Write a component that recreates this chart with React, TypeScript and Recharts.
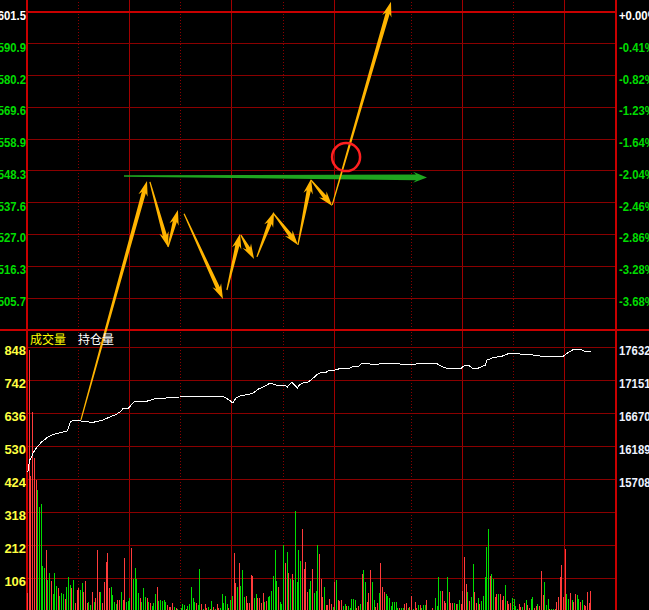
import React from "react";
import {
  Bar,
  Cell,
  ComposedChart,
  Line,
  ReferenceDot,
  ReferenceLine,
  XAxis,
  YAxis,
} from "recharts";

// price panel ticks (left) and change vs. previous close (right)
const priceTicks = [2601.5, 2590.9, 2580.2, 2569.6, 2558.9, 2548.3, 2537.6, 2527.0, 2516.3, 2505.7];
const percentTicks = ["+0.00%", "-0.41%", "-0.82%", "-1.23%", "-1.64%", "-2.04%", "-2.46%", "-2.86%", "-3.28%", "-3.68%"];
// volume (left) and open interest (right) ticks of the lower panel
const volumeTicks = [848, 742, 636, 530, 424, 318, 212, 106];
const openInterestTicks = [17632, 17151, 16670, 16189, 15708];

// trading minutes from 21:00: night 21:00-23:00, day 9:00-10:15, 10:30-11:30, 13:30-15:00
const sessionLength = 345;
const halfHourMarks = [30, 90, 150, 225, 285];
const hourMarks = [60, 120, 180, 255, 315];

// per-minute volume
const volumes = [
  62, 842, 437, 642, 494, 424, 392, 337, 347, 148,
  142, 199, 103, 125, 100, 57, 126, 84, 78, 52,
  62, 58, 42, 81, 113, 87, 77, 103, 30, 71,
  77, 71, 93, 65, 100, 29, 32, 22, 65, 33,
  44, 199, 65, 65, 29, 97, 162, 189, 77, 81,
  55, 33, 26, 39, 39, 65, 39, 175, 33, 35,
  44, 207, 106, 141, 106, 61, 46, 33, 77, 49,
  46, 33, 29, 19, 29, 58, 81, 35, 39, 35,
  39, 33, 22, 17, 17, 29, 17, 13, 10, 8,
  13, 26, 22, 10, 19, 26, 81, 46, 33, 29,
  22, 138, 26, 10, 26, 12, 17, 10, 35, 16,
  10, 26, 12, 13, 58, 30, 51, 26, 13, 39,
  51, 190, 94, 81, 157, 83, 135, 49, 51, 30,
  30, 119, 116, 46, 58, 45, 45, 30, 61, 33,
  35, 48, 51, 67, 116, 199, 100, 80, 32, 26,
  215, 157, 193, 125, 106, 122, 103, 324, 96, 199,
  164, 267, 138, 161, 64, 74, 100, 138, 61, 67,
  215, 186, 106, 48, 80, 21, 21, 42, 26, 17,
  96, 103, 39, 35, 39, 19, 26, 19, 19, 13,
  42, 42, 39, 12, 19, 26, 122, 135, 96, 32,
  61, 135, 96, 39, 16, 29, 61, 157, 80, 64,
  58, 51, 45, 19, 32, 32, 32, 13, 13, 13,
  13, 26, 29, 13, 16, 51, 10, 32, 13, 21,
  21, 13, 21, 21, 39, 6, 8, 13, 5, 45,
  19, 112, 67, 67, 35, 29, 112, 64, 29, 29,
  29, 26, 26, 39, 26, 67, 177, 90, 64, 35,
  48, 154, 64, 29, 45, 26, 35, 51, 112, 209,
  267, 116, 122, 106, 48, 58, 58, 58, 39, 51,
  87, 35, 26, 29, 45, 42, 19, 10, 26, 16,
  16, 29, 39, 21, 13, 42, 48, 13, 19, 26,
  19, 132, 55, 96, 21, 42, 10, 10, 10, 10,
  32, 48, 112, 151, 48, 202, 58, 42, 61, 39,
  32, 58, 55, 42, 32, 39, 21, 19, 64, 29, 67,
];

// r = price ticked up in that minute, g = ticked down
const barSides = [
  "rrrrrrgggg", "grggrgggrg", "ggrgggrgrr", "rggrrrggrg", "rrrgrrrrrg",
  "gggrrgrrgg", "grggggrggg", "rgrgggrggg", "ggrrrrgrgg", "gggrgggggr",
  "ggrgrrgrgr", "grrgggggrg", "grrgrgggrr", "rrrggrrrrg", "rggggggrgg",
  "grgrgrgggg", "grrrrggrgg", "grrrgrrrrg", "rgrrrggrgg", "gggrrgrggr",
  "rrggrrgrrr", "ggggggggrg", "grrgrrgrrg", "rgggrggrgg", "gggrrrgrrr",
  "grggrrrrgr", "ggrrgrgggg", "grggrrgrrr", "grrrggggrr", "grgrrggrrg",
  "rrrgggrggr", "rrrrrrggrg", "rrggrgrrrrr",
].join("");

// open interest: [minute, contracts]
const openInterest: [number, number][] = [
  [0, 15825], [1, 15999], [2, 16029], [3, 16102], [5, 16174], [8, 16262],
  [11, 16320], [14, 16364], [18, 16393], [23, 16422], [25, 16553], [26, 16568],
  [31, 16568], [36, 16553], [39, 16553], [44, 16583], [48, 16626], [51, 16655],
  [54, 16699], [56, 16757], [59, 16757], [62, 16845], [67, 16859], [70, 16859],
  [76, 16903], [81, 16903], [89, 16918], [93, 16932], [97, 16918], [101, 16918],
  [115, 16918], [118, 16874], [120, 16830], [122, 16903], [124, 16932], [130, 16962],
  [132, 16976], [135, 17034], [138, 17064], [142, 17122], [145, 17093], [151, 17078],
  [152, 17064], [154, 17122], [155, 17122], [158, 17049], [159, 17093], [161, 17122],
  [163, 17122], [166, 17166], [169, 17238], [171, 17268], [175, 17282], [177, 17311],
  [180, 17311], [182, 17326], [187, 17326], [190, 17355], [194, 17370], [196, 17413],
  [199, 17413], [202, 17384], [206, 17399], [210, 17413], [214, 17399], [218, 17399],
  [224, 17384], [231, 17413], [235, 17399], [240, 17399], [243, 17355], [247, 17326],
  [250, 17326], [254, 17340], [256, 17384], [258, 17384], [261, 17326], [264, 17340],
  [268, 17384], [269, 17457], [272, 17486], [275, 17501], [278, 17515], [281, 17545],
  [288, 17545], [296, 17530], [304, 17501], [307, 17501], [313, 17501], [316, 17559],
  [319, 17603], [323, 17617], [326, 17588], [330, 17574],
];

// hand-drawn swing arrows on the price scale: [fromMinute, fromPrice, toMinute, toPrice]
const swingArrows = [
  [31.6, 2464.9, 70.3, 2544.9],
  [72.0, 2544.6, 82.6, 2522.8],
  [82.6, 2522.8, 88.4, 2535.2],
  [92.0, 2533.9, 114.8, 2505.4],
  [117.1, 2508.4, 124.8, 2527.2],
  [125.3, 2526.8, 133.0, 2518.8],
  [134.7, 2519.5, 144.7, 2534.5],
  [144.1, 2534.2, 158.7, 2523.5],
  [158.7, 2523.5, 166.4, 2545.6],
  [166.4, 2545.2, 178.8, 2536.5],
  [178.8, 2536.9, 213.2, 2604.9],
];
const resistanceArrow = [56.8, 2546.6, 234.3, 2546.1];
const breakoutMark = [186.9, 2552.9];

// axis ranges over the whole plot height (price panel on top, volume panel below)
const PRICE_DOMAIN = [2400.56, 2605.52];
const VOLUME_DOMAIN = [0, 1965.8];
const OI_DOMAIN = [13784, 22704.4];
const PRICE_FLOOR = 2495.0;

const GRID = "#8a0000";
const GRID_STRONG = "#a00000";
const FRAME = "#c80000";
const UP = "#ff3c3c";
const DOWN = "#00dc00";
const ARROW = "#ffb400";

const numberFont: React.CSSProperties = {
  fontFamily: "'Liberation Sans', Arial, sans-serif",
  fontSize: 13.5,
  fontWeight: 700,
};

type Row = { t: number; vol: number; up: boolean; oi?: number };
const rows: Row[] = volumes.map((vol, i) => ({ t: i + 0.5, vol, up: barSides[i] === "r" }));
for (const [minute, value] of openInterest) rows[minute].oi = value;

// tick text drawn beside a horizontal reference line; squeeze < 1 narrows the glyphs
const sideLabels =
  (
    left: string | null,
    leftColor: string,
    right: string | null,
    rightColor: string,
    dy = 8,
    squeeze = 0.84,
  ) =>
  (props: any) => {
    const vb = props.viewBox;
    const y = vb.y + dy;
    const lx = vb.x - 1;
    const rx = vb.x + vb.width + 3;
    return (
      <g>
        {left !== null && (
          <text
            transform={`translate(${lx},${y}) scale(${squeeze},1)`}
            textAnchor="end"
            fill={leftColor}
            style={numberFont}
          >
            {left}
          </text>
        )}
        {right !== null && (
          <text
            transform={`translate(${rx},${y}) scale(${squeeze},1)`}
            textAnchor="start"
            fill={rightColor}
            style={numberFont}
          >
            {right}
          </text>
        )}
      </g>
    );
  };

// tapered arrow: thin tail, widening shaft, swept-back head
function TaperedArrow(props: any) {
  const { x1, y1, x2, y2, color, tail = 0.6, neck = 2.1, barb = 4.8, headLen = 12 } = props;
  const dx = x2 - x1;
  const dy = y2 - y1;
  const len = Math.hypot(dx, dy) || 1;
  const ux = dx / len;
  const uy = dy / len;
  const nx = -uy;
  const ny = ux;
  const bx = x2 - ux * headLen;
  const by = y2 - uy * headLen;
  const pts = [
    [x1 + nx * tail, y1 + ny * tail],
    [bx + nx * neck, by + ny * neck],
    [bx - ux * 3 + nx * barb, by - uy * 3 + ny * barb],
    [x2, y2],
    [bx - ux * 3 - nx * barb, by - uy * 3 - ny * barb],
    [bx - nx * neck, by - ny * neck],
    [x1 - nx * tail, y1 - ny * tail],
  ];
  return <polygon points={pts.map((p) => p.join(",")).join(" ")} fill={color} />;
}

export default function App() {
  return (
    <div
      style={{
        position: "fixed",
        left: 0,
        top: 0,
        width: 649,
        height: 610,
        overflow: "hidden",
        background: "#000",
      }}
    >
      <style>
        {".recharts-bar-rectangle path, .recharts-reference-line-line, .recharts-line-curve { shape-rendering: crispEdges; }"}
      </style>
      <ComposedChart
        width={649}
        height={612}
        data={rows}
        margin={{ top: 0, right: 33, bottom: 0, left: 27 }}
      >
        <XAxis type="number" dataKey="t" domain={[0, sessionLength]} hide allowDataOverflow />
        <YAxis yAxisId="price" domain={PRICE_DOMAIN} hide allowDataOverflow />
        <YAxis yAxisId="vol" domain={VOLUME_DOMAIN} hide allowDataOverflow />
        <YAxis yAxisId="oi" orientation="right" domain={OI_DOMAIN} hide allowDataOverflow />

        {halfHourMarks.map((m) => (
          <ReferenceLine key={`half-${m}`} x={m} yAxisId="price" stroke={GRID} strokeDasharray="1 2" zIndex={-100} />
        ))}
        {hourMarks.map((m) => (
          <ReferenceLine key={`hour-${m}`} x={m} yAxisId="price" stroke={GRID_STRONG} zIndex={-100} />
        ))}

        {priceTicks.map((p, i) => (
          <ReferenceLine
            key={`price-${p}`}
            y={p}
            yAxisId="price"
            stroke={i === 0 ? FRAME : GRID}
            strokeWidth={i === 0 ? 2 : 1}
            zIndex={-100}
            label={sideLabels(
              p.toFixed(1),
              i === 0 ? "#ffffff" : DOWN,
              percentTicks[i],
              i === 0 ? "#ffffff" : DOWN,
            )}
          />
        ))}

        {volumeTicks.map((v) => (
          <ReferenceLine
            key={`vol-${v}`}
            y={v}
            yAxisId="vol"
            stroke={GRID}
            zIndex={-100}
            label={sideLabels(String(v), "#ffff40", null, "", 7, 0.96)}
          />
        ))}
        {openInterestTicks.map((v) => (
          <ReferenceLine
            key={`oi-${v}`}
            y={v}
            yAxisId="oi"
            stroke="none"
            label={sideLabels(null, "", String(v), "#eef3ff", 7)}
          />
        ))}

        <ReferenceLine x={0} yAxisId="price" stroke={FRAME} strokeWidth={1.5} zIndex={-100} />
        <ReferenceLine x={sessionLength} yAxisId="price" stroke={FRAME} strokeWidth={1.5} zIndex={-100} />
        <ReferenceLine
          yAxisId="price"
          segment={[
            { x: -20, y: PRICE_FLOOR },
            { x: sessionLength + 25, y: PRICE_FLOOR },
          ]}
          ifOverflow="visible"
          stroke={FRAME}
          strokeWidth={2.5}
          zIndex={-100}
        />

        <Bar dataKey="vol" yAxisId="vol" barSize={1} isAnimationActive={false}>
          {rows.map((r, i) => (
            <Cell key={i} fill={r.up ? UP : DOWN} />
          ))}
        </Bar>
        <Line
          dataKey="oi"
          yAxisId="oi"
          stroke="#ffffff"
          strokeWidth={1}
          dot={false}
          connectNulls
          isAnimationActive={false}
        />

        <ReferenceLine
          yAxisId="price"
          segment={[
            { x: resistanceArrow[0], y: resistanceArrow[1] },
            { x: resistanceArrow[2], y: resistanceArrow[3] },
          ]}
          ifOverflow="visible"
          zIndex={1500}
          shape={(p: any) => <TaperedArrow {...p} color="#1fa51f" tail={0.8} neck={2.8} barb={5.5} headLen={11} />}
        />
        {swingArrows.map((a, i) => (
          <ReferenceLine
            key={`swing-${i}`}
            yAxisId="price"
            segment={[
              { x: a[0], y: a[1] },
              { x: a[2], y: a[3] },
            ]}
            ifOverflow="visible"
            zIndex={1500}
            shape={(p: any) => <TaperedArrow {...p} color={ARROW} />}
          />
        ))}
        <ReferenceDot
          x={breakoutMark[0]}
          y={breakoutMark[1]}
          yAxisId="price"
          r={14}
          fill="none"
          stroke="#ff2020"
          strokeWidth={2.5}
          ifOverflow="visible"
          zIndex={1500}
        />
      </ComposedChart>
      <div
        style={{
          position: "absolute",
          left: 30,
          top: 332,
          fontFamily: "'Noto Sans CJK SC', sans-serif",
          fontSize: 12,
          lineHeight: "14px",
          whiteSpace: "nowrap",
        }}
      >
        <span style={{ color: "#ffff00" }}>成交量</span>
        <span style={{ color: "#ffffff", marginLeft: 12 }}>持仓量</span>
      </div>
    </div>
  );
}
